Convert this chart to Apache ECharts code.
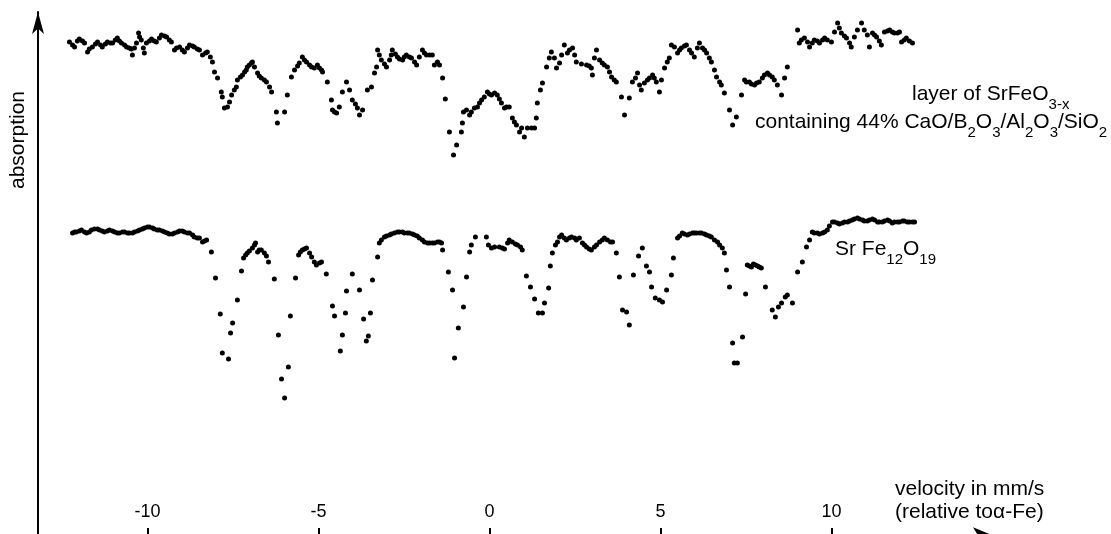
<!DOCTYPE html>
<html>
<head>
<meta charset="utf-8">
<title>Mössbauer spectra</title>
<script src="https://cdn.jsdelivr.net/npm/echarts@6/dist/echarts.min.js"></script>
<style>
  html, body { margin: 0; padding: 0; background: #fff; }
  #chart { width: 1111px; height: 534px; }
</style>
</head>
<body>
<div id="chart"></div>
<script>
// Velocity tick positions (mm/s, relative to alpha-Fe)
const tickValues = [-10, -5, 0, 5, 10];

// Layer of SrFeO3-x containing 44 % CaO/B2O3/Al2O3/SiO2: velocity (mm/s)
const layerVelocity = [
  -12.28,-12.19,-12.13,-12.05,-11.99,-11.90,-11.84,-11.75,-11.70,-11.61,-11.52,-11.46,-11.37,-11.32,-11.23,-11.17,
  -11.08,-11.02,-10.94,-10.88,-10.82,-10.76,-10.67,-10.61,-10.53,-10.47,-10.44,-10.38,-10.32,-10.26,-10.23,-10.18,
  -10.12,-10.09,-10.03,-9.94,-9.88,-9.80,-9.74,-9.65,-9.59,-9.50,-9.44,-9.36,-9.30,-9.21,-9.15,-9.06,
  -8.98,-8.92,-8.83,-8.77,-8.68,-8.63,-8.54,-8.48,-8.39,-8.30,-8.25,-8.16,-8.10,-8.04,-7.95,-7.84,
  -7.81,-7.75,-7.66,-7.60,-7.54,-7.46,-7.40,-7.37,-7.28,-7.22,-7.16,-7.11,-7.08,-7.02,-6.96,-6.93,
  -6.87,-6.78,-6.73,-6.67,-6.58,-6.52,-6.43,-6.37,-6.23,-6.20,-5.99,-5.91,-5.79,-5.70,-5.61,-5.56,
  -5.47,-5.41,-5.35,-5.26,-5.20,-5.12,-5.03,-4.97,-4.91,-4.88,-4.74,-4.62,-4.59,-4.53,-4.47,-4.39,
  -4.30,-4.18,-4.09,-4.01,-3.92,-3.86,-3.80,-3.71,-3.57,-3.45,-3.36,-3.30,-3.27,-3.22,-3.16,-3.07,
  -3.01,-2.92,-2.87,-2.84,-2.75,-2.69,-2.63,-2.54,-2.49,-2.43,-2.34,-2.28,-2.19,-2.13,-2.05,-1.96,
  -1.90,-1.84,-1.75,-1.67,-1.61,-1.52,-1.46,-1.37,-1.29,-1.17,-1.05,-0.96,-0.82,-0.79,-0.76,-0.67,
  -0.58,-0.53,-0.44,-0.35,-0.29,-0.23,-0.15,-0.06,0.00,0.06,0.15,0.23,0.29,0.35,0.44,0.50,
  0.58,0.67,0.73,0.79,0.88,0.94,1.02,1.11,1.23,1.32,1.37,1.40,1.49,1.55,1.67,1.75,
  1.81,1.90,1.96,2.05,2.11,2.19,2.28,2.34,2.43,2.49,2.54,2.69,2.84,2.92,2.98,3.01,
  3.07,3.13,3.22,3.30,3.36,3.45,3.51,3.57,3.65,3.71,3.86,3.95,4.09,4.18,4.27,4.33,
  4.39,4.44,4.53,4.62,4.68,4.77,4.82,4.88,4.97,5.03,5.12,5.20,5.26,5.32,5.41,5.50,
  5.56,5.61,5.70,5.76,5.85,5.91,5.99,6.08,6.14,6.23,6.29,6.35,6.43,6.49,6.58,6.64,
  6.73,6.78,6.87,7.02,7.11,7.22,7.37,7.46,7.51,7.60,7.66,7.75,7.81,7.89,7.98,8.04,
  8.13,8.19,8.27,8.33,8.42,8.54,8.63,8.71,9.01,9.06,9.12,9.21,9.30,9.36,9.44,9.50,
  9.59,9.65,9.74,9.80,9.88,10.00,10.09,10.18,10.23,10.29,10.38,10.44,10.53,10.58,10.67,10.76,
  10.88,10.96,11.05,11.11,11.20,11.26,11.32,11.40,11.46,11.55,11.64,11.70,11.78,11.84,11.93,11.99,
  12.05,12.13,12.19,12.28,12.37
];
// Layer spectrum: absorption (arb. units)
const layerAbsorption = [
  496,493,491,497,499,497,495,486,489,491,494,496,493,491,494,496,
  495,495,498,500,497,495,493,491,490,489,483,490,495,505,501,498,
  490,485,495,497,499,497,496,500,503,502,501,498,496,488,490,491,
  488,486,490,493,492,491,489,488,483,485,486,481,476,466,460,446,
  441,430,431,436,443,448,451,458,461,463,466,468,471,473,475,476,
  471,465,462,460,458,456,451,446,426,415,426,443,461,468,472,475,
  481,478,476,473,471,470,473,470,468,466,456,438,428,426,425,431,
  446,456,448,438,434,430,423,428,448,451,465,471,488,483,478,474,
  471,478,483,488,484,481,479,478,481,483,481,480,476,473,481,488,
  485,483,483,483,473,476,473,460,439,406,383,393,406,415,426,428,
  423,426,430,431,435,438,441,446,444,443,445,443,439,435,430,431,
  431,420,416,413,406,410,401,410,410,410,420,435,448,455,471,480,
  486,480,470,475,483,493,485,488,490,483,476,474,473,472,470,463,
  480,488,478,475,473,471,466,461,458,456,441,423,440,456,460,465,
  453,448,455,458,460,463,460,456,446,458,470,476,480,493,491,485,
  488,490,492,493,488,485,481,490,495,490,488,485,480,476,468,461,
  456,453,445,428,413,421,443,458,456,456,454,453,455,456,460,463,
  465,463,461,458,453,443,460,471,508,495,498,500,496,491,495,498,
  497,495,498,500,498,496,506,515,510,505,502,500,495,491,501,508,
  515,508,503,491,505,503,501,497,493,506,507,508,506,505,505,506,
  496,498,500,497,495
];

// SrFe12O19 reference spectrum: velocity (mm/s)
const hexaferriteVelocity = [
  -12.19,-12.13,-12.08,-11.99,-11.93,-11.84,-11.78,-11.70,-11.64,-11.55,-11.46,-11.40,-11.32,-11.26,-11.17,-11.11,
  -11.02,-10.96,-10.88,-10.82,-10.73,-10.67,-10.58,-10.53,-10.44,-10.38,-10.29,-10.23,-10.15,-10.09,-10.00,-9.94,
  -9.85,-9.80,-9.71,-9.65,-9.56,-9.50,-9.42,-9.36,-9.27,-9.21,-9.12,-9.06,-8.98,-8.92,-8.83,-8.77,
  -8.68,-8.63,-8.54,-8.48,-8.39,-8.33,-8.27,-8.13,-8.01,-7.87,-7.81,-7.63,-7.57,-7.51,-7.37,-7.25,
  -7.19,-7.13,-7.08,-7.02,-6.93,-6.87,-6.84,-6.78,-6.73,-6.67,-6.58,-6.52,-6.46,-6.29,-6.17,-6.08,
  -5.99,-5.88,-5.82,-5.67,-5.58,-5.53,-5.47,-5.41,-5.35,-5.26,-5.20,-5.12,-5.06,-4.97,-4.91,-4.77,
  -4.59,-4.53,-4.36,-4.30,-4.21,-4.18,-4.01,-3.80,-3.68,-3.60,-3.54,-3.48,-3.42,-3.27,-3.22,-3.16,
  -3.07,-3.01,-2.92,-2.87,-2.78,-2.69,-2.63,-2.54,-2.49,-2.40,-2.34,-2.25,-2.19,-2.11,-2.05,-1.96,
  -1.90,-1.81,-1.75,-1.67,-1.61,-1.52,-1.46,-1.40,-1.37,-1.20,-1.08,-1.02,-0.91,-0.76,-0.67,-0.58,
  -0.53,-0.41,-0.09,-0.03,0.06,0.15,0.29,0.38,0.44,0.53,0.58,0.67,0.76,0.82,0.91,0.96,
  1.08,1.20,1.32,1.43,1.55,1.61,1.73,1.78,1.84,1.93,1.99,2.05,2.11,2.19,2.25,2.34,
  2.40,2.49,2.54,2.63,2.72,2.78,2.84,2.92,2.98,3.07,3.13,3.22,3.30,3.36,3.45,3.54,
  3.60,3.71,3.80,3.89,4.01,4.09,4.21,4.36,4.47,4.59,4.68,4.74,4.85,4.97,5.06,5.18,
  5.32,5.38,5.50,5.56,5.64,5.70,5.79,5.85,5.94,5.99,6.05,6.14,6.20,6.29,6.35,6.43,
  6.49,6.58,6.67,6.73,6.81,6.87,6.93,7.02,7.11,7.16,7.25,7.40,7.49,7.54,7.60,7.66,
  7.72,7.78,7.84,7.89,7.95,8.07,8.27,8.36,8.45,8.54,8.65,8.71,8.86,9.01,9.15,9.27,
  9.36,9.44,9.50,9.59,9.65,9.74,9.80,9.88,9.94,10.03,10.09,10.18,10.23,10.32,10.38,10.47,
  10.53,10.61,10.67,10.76,10.82,10.91,10.96,11.05,11.11,11.20,11.26,11.35,11.40,11.49,11.55,11.64,
  11.70,11.78,11.84,11.93,11.99,12.08,12.13,12.22,12.28,12.37,12.43
];
// SrFe12O19 spectrum: absorption (arb. units)
const hexaferriteAbsorption = [
  305,306,306,307,308,306,305,306,308,309,309,308,307,306,307,308,
  307,306,305,305,306,306,305,305,305,306,307,308,309,310,311,311,
  310,309,308,308,307,306,305,304,304,305,306,307,307,306,305,305,
  303,301,300,300,296,297,298,286,260,224,185,179,205,215,238,267,
  280,283,285,287,290,293,295,286,288,288,285,282,276,259,203,159,
  140,171,222,260,283,286,288,289,290,285,281,276,273,275,276,264,
  232,222,187,203,225,247,264,248,219,197,202,225,258,281,295,298,
  301,302,303,304,305,306,306,306,305,305,305,304,303,302,300,298,
  296,295,295,295,295,296,296,295,288,266,248,180,210,231,261,286,
  293,301,301,293,290,291,291,290,289,295,298,296,294,293,291,288,
  262,251,239,225,225,235,250,272,285,293,296,301,303,300,298,300,
  301,300,298,300,295,293,291,289,288,291,293,296,298,300,298,296,
  296,285,261,228,226,213,263,282,290,272,266,251,240,238,236,248,
  263,280,300,302,305,304,303,304,305,305,305,305,305,304,303,302,
  301,298,296,293,290,285,268,251,195,175,175,201,244,273,272,271,
  274,273,272,271,270,251,228,221,231,235,241,243,235,266,276,291,
  298,306,305,305,304,305,306,308,312,316,316,315,314,315,316,316,
  317,318,319,320,319,318,317,317,318,319,318,316,316,316,317,318,
  317,315,316,316,316,317,317,316,316,316,316
];

const layerData = layerVelocity.map((v, i) => [v, layerAbsorption[i]]);
const hexaferriteData = hexaferriteVelocity.map((v, i) => [v, hexaferriteAbsorption[i]]);

const FONT = '"Liberation Sans", Arial, Helvetica, sans-serif';

const chart = echarts.init(document.getElementById('chart'), null, { renderer: 'canvas' });

// Main text and lowered subscripts for the chemical formulae
const mainRich = {
  m: { fontFamily: FONT, fontSize: 21, lineHeight: 28, verticalAlign: 'top', fill: '#000' },
  s: { fontFamily: FONT, fontSize: 15, lineHeight: 15, verticalAlign: 'bottom', fill: '#000' }
};

chart.setOption({
  animation: false,
  backgroundColor: '#fff',
  grid: {
    left: 38, top: 12, width: 961.02, height: 526,
    containLabel: false,
    outerBoundsMode: 'none'
  },
  xAxis: {
    type: 'value',
    min: -13.2,
    max: 14.9,
    splitLine: { show: false },
    axisLine: {
      show: true,
      onZero: false,
      symbol: ['none', 'arrow'],
      symbolSize: [16, 26],
      lineStyle: { color: '#000', width: 2 }
    },
    axisTick: {
      show: true,
      inside: true,
      length: 10,
      customValues: tickValues,
      lineStyle: { color: '#000', width: 2 }
    },
    axisLabel: {
      show: true,
      inside: true,
      margin: 17,
      customValues: tickValues,
      color: '#000',
      fontFamily: FONT,
      fontSize: 18
    }
  },
  yAxis: {
    type: 'value',
    min: 0,
    max: 526,
    splitLine: { show: false },
    axisTick: { show: false },
    axisLabel: { show: false },
    axisLine: {
      show: true,
      onZero: false,
      symbol: ['none', 'arrow'],
      symbolSize: [9, 22],
      lineStyle: { color: '#000', width: 2 }
    }
  },
  series: [
    {
      name: 'layer of SrFeO3-x',
      type: 'scatter',
      data: layerData,
      symbol: 'circle',
      symbolSize: 5,
      clip: false,
      silent: true,
      itemStyle: { color: '#000', opacity: 1 }
    },
    {
      name: 'SrFe12O19',
      type: 'scatter',
      data: hexaferriteData,
      symbol: 'circle',
      symbolSize: 5,
      clip: false,
      silent: true,
      itemStyle: { color: '#000', opacity: 1 }
    }
  ],
  graphic: [
    {
      type: 'text',
      x: 18,
      y: 140,
      rotation: Math.PI / 2,
      style: {
        text: 'absorption',
        fontFamily: FONT,
        fontSize: 21,
        fill: '#000',
        align: 'center',
        verticalAlign: 'middle'
      }
    },
    {
      type: 'text',
      x: 895,
      y: 478,
      style: {
        text: 'velocity in mm/s\n(relative toα-Fe)',
        fontFamily: FONT,
        fontSize: 21,
        lineHeight: 23,
        fill: '#000',
        align: 'left',
        verticalAlign: 'top'
      }
    },
    {
      type: 'text',
      x: 912,
      y: 84,
      style: {
        text: '{m|layer of SrFeO}{s|3-x}',
        rich: mainRich,
        align: 'left',
        verticalAlign: 'top'
      }
    },
    {
      type: 'text',
      x: 755,
      y: 112,
      style: {
        text: '{m|containing 44% CaO/B}{s|2}{m|O}{s|3}{m|/Al}{s|2}{m|O}{s|3}{m|/SiO}{s|2}',
        rich: mainRich,
        align: 'left',
        verticalAlign: 'top'
      }
    },
    {
      type: 'text',
      x: 835,
      y: 239,
      style: {
        text: '{m|Sr Fe}{s|12}{m|O}{s|19}',
        rich: mainRich,
        align: 'left',
        verticalAlign: 'top'
      }
    }
  ]
});
</script>
</body>
</html>
